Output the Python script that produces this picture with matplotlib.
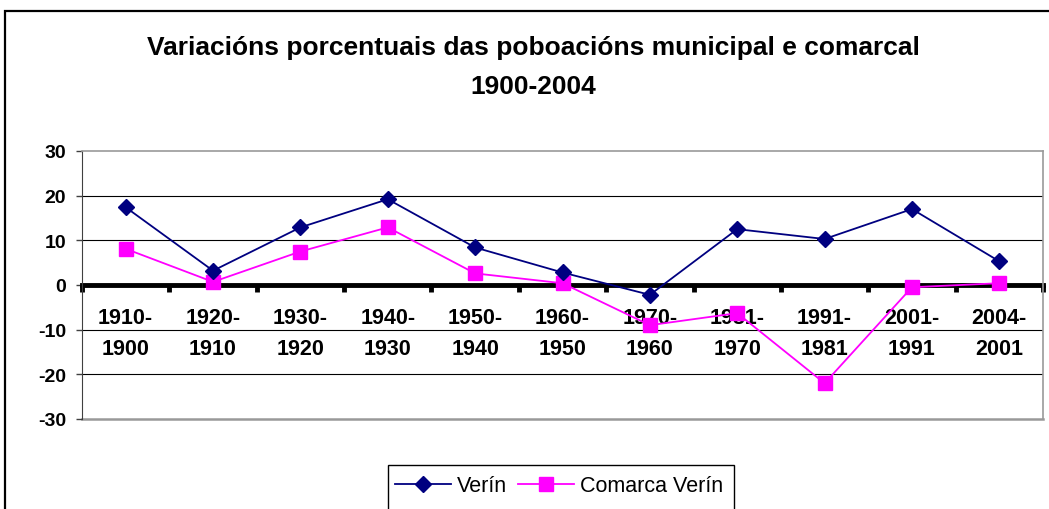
import matplotlib.pyplot as plt
import matplotlib.patches as mpatches
import numpy as np

periods = ["1910-\n1900", "1920-\n1910", "1930-\n1920", "1940-\n1930", "1950-\n1940",
           "1960-\n1950", "1970-\n1960", "1981-\n1970", "1991-\n1981", "2001-\n1991", "2004-\n2001"]
verin = [17.4, 3.2, 12.9, 19.2, 8.4, 2.8, -2.2, 12.5, 10.3, 17.0, 5.3]
comarca = [8.1, 0.7, 7.5, 12.9, 2.6, 0.4, -9.0, -6.3, -22.0, -0.5, 0.4]
yticks = [-30, -20, -10, 0, 10, 20, 30]

W, H = 1049, 510
fig = plt.figure(figsize=(W / 100, H / 100), dpi=100)
plt.rcParams['font.family'] = ['Liberation Sans', 'DejaVu Sans']

# outer chart border (runs off the right and bottom of the picture)
fig.patches.append(mpatches.Rectangle((5 / W, -0.1), 1.2, 1 - 12 / H + 0.1,
                                      transform=fig.transFigure, fill=False,
                                      edgecolor='black', linewidth=1.6))

ax = fig.add_axes([82 / W, 1 - 420 / H, (1043 - 82) / W, (420 - 152) / H])
x = np.arange(len(periods))

ax.plot(x, verin, color='#000080', marker='D', markersize=8.5, linewidth=1.3,
        label='Verín', zorder=4)
ax.plot(x, comarca, color='#FF00FF', marker='s', markersize=10, linewidth=1.3,
        label='Comarca Verín', zorder=3)

ax.set_xlim(-0.5, len(periods) - 0.5)
ax.set_ylim(-30, 30)
ax.set_yticks(yticks)
ax.set_yticklabels([str(v) for v in yticks], fontsize=14, fontweight='bold')
for v in yticks:
    if v not in (-30, 0, 30):
        ax.axhline(v, color='black', linewidth=0.8, zorder=1)

# x axis at zero: thick line, ticks at category boundaries, labels at centres
ax.spines['bottom'].set_position(('data', 0))
ax.spines['bottom'].set_linewidth(3.5)
ax.spines['bottom'].set_color('black')
ax.spines['bottom'].set_zorder(2)
ax.set_xticks(x)
ax.set_xticklabels(periods, fontsize=15.5, fontweight='bold', linespacing=1.6)
ax.set_xticks(np.arange(-0.5, len(periods), 1), minor=True)
ax.tick_params(axis='x', which='major', length=0, pad=16)
ax.tick_params(axis='x', which='minor', length=5, width=3.5, color='black', direction='out')
ax.tick_params(axis='y', length=4.5, width=1, color='#404040', pad=7)

ax.spines['left'].set_color('#404040')
for s in ('top', 'right'):
    ax.spines[s].set_color('#999999')
    ax.spines[s].set_linewidth(1.2)
ax.axhline(-30, color='#999999', linewidth=1.8, clip_on=False, zorder=1)

fig.text(533 / W, 1 - 48 / H, "Variacións porcentuais das poboacións municipal e comarcal",
         ha='center', va='center', fontsize=19, fontweight='bold')
fig.text(533 / W, 1 - 87 / H, "1900-2004", ha='center', va='center',
         fontsize=19, fontweight='bold')

# legend box runs off the bottom of the picture
fig.patches.append(mpatches.Rectangle((388 / W, -0.1), (734 - 388) / W, 1 - 466 / H + 0.1,
                                      transform=fig.transFigure, fill=False,
                                      edgecolor='black', linewidth=1.0))
fig.legend(loc='center', bbox_to_anchor=(559 / W, 1 - 487 / H), ncol=2, frameon=False,
           fontsize=15.5, handlelength=2.6, columnspacing=0.5, handletextpad=0.3,
           borderaxespad=0)

fig.savefig('out.png', dpi=100)
